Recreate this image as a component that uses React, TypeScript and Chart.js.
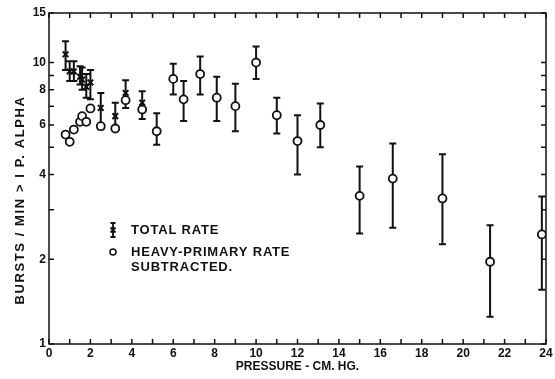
import React, { useEffect, useRef } from "react";
import { Chart, registerables } from "chart.js";

Chart.register(...registerables);

const pressures = [0.8, 1.0, 1.2, 1.5, 1.6, 1.8, 2.0, 2.5, 3.2, 3.7, 4.5, 5.2, 6.0, 6.5, 7.3, 8.1, 9.0, 10.0, 11.0, 12.0, 13.1, 15.0, 16.6, 19.0, 21.3, 23.8];
const totalRate = [10.7, 9.3, 9.3, 8.9, 8.7, 8.2, 8.5, 6.9, 6.45, 7.8, 7.2, 5.7, 8.75, 7.4, 9.1, 7.5, 7.0, 10.0, 6.5, 5.26, 6.0, 3.36, 3.87, 3.29, 1.96, 2.45];
const totalHigh = [11.9, 10.1, 10.1, 9.7, 9.6, 9.1, 9.4, 7.8, 7.2, 8.65, 7.9, 6.6, 9.9, 8.6, 10.5, 8.9, 8.4, 11.4, 7.5, 6.5, 7.15, 4.27, 5.16, 4.72, 2.64, 3.34];
const totalLow = [9.4, 8.6, 8.6, 8.35, 8.0, 7.5, 7.4, 5.8, 5.9, 6.9, 6.3, 5.1, 7.7, 6.2, 7.7, 6.2, 5.7, 8.75, 5.6, 4.0, 5.0, 2.47, 2.59, 2.26, 1.25, 1.56];
const subtractedRate = [5.55, 5.23, 5.78, 6.16, 6.45, 6.16, 6.87, 5.94, 5.83, 7.35, 6.81, 5.7, 8.75, 7.4, 9.1, 7.5, 7.0, 10.0, 6.5, 5.26, 6.0, 3.36, 3.87, 3.29, 1.96, 2.45];

const yTicks = [1, 2, 3, 4, 5, 6, 7, 8, 9, 10, 15];
const yTickLabels = [1, 2, 4, 6, 8, 10, 15];
const xMinorTicks = [0, 1, 2, 3, 4, 5, 6, 7, 8, 9, 10, 11, 12, 13, 14, 15, 16, 17, 18, 19, 20, 21, 22, 23, 24];

const xTitle = "PRESSURE - CM. HG.";
const yTitle = "BURSTS / MIN > I P. ALPHA";
const legendTotal = "TOTAL RATE";
const legendSub1 = "HEAVY-PRIMARY RATE";
const legendSub2 = "SUBTRACTED.";

const FONT = "'Liberation Sans', Arial, sans-serif";
const INK = "#111";

const framePlugin = {
  id: "frame",
  afterDatasetsDraw(chart: any) {
    const { ctx, chartArea } = chart;
    const xs = chart.scales.x;
    const ys = chart.scales.y;
    const { left, right, top, bottom } = chartArea;
    ctx.save();
    ctx.strokeStyle = INK;
    ctx.lineWidth = 1.5;
    ctx.strokeRect(left, top, right - left, bottom - top);
    const tl = 5;
    ctx.beginPath();
    xMinorTicks.forEach((v) => {
      const px = xs.getPixelForValue(v);
      ctx.moveTo(px, bottom);
      ctx.lineTo(px, bottom - tl);
      ctx.moveTo(px, top);
      ctx.lineTo(px, top + tl);
    });
    yTicks.forEach((v) => {
      const py = ys.getPixelForValue(v);
      ctx.moveTo(left, py);
      ctx.lineTo(left + tl, py);
      ctx.moveTo(right, py);
      ctx.lineTo(right - tl, py);
    });
    ctx.stroke();
    ctx.restore();
  },
};

const errorBarPlugin = {
  id: "errorBars",
  beforeDatasetsDraw(chart: any) {
    const { ctx } = chart;
    const xs = chart.scales.x;
    const ys = chart.scales.y;
    ctx.save();
    ctx.strokeStyle = INK;
    ctx.lineWidth = 2;
    ctx.beginPath();
    pressures.forEach((p, i) => {
      const px = xs.getPixelForValue(p);
      const yl = ys.getPixelForValue(totalLow[i]);
      const yh = ys.getPixelForValue(totalHigh[i]);
      ctx.moveTo(px, yl);
      ctx.lineTo(px, yh);
      ctx.moveTo(px - 3.5, yl);
      ctx.lineTo(px + 3.5, yl);
      ctx.moveTo(px - 3.5, yh);
      ctx.lineTo(px + 3.5, yh);
    });
    ctx.stroke();
    ctx.restore();
  },
};

const textPlugin = {
  id: "inlineText",
  afterDraw(chart: any) {
    const { ctx } = chart;
    ctx.save();
    ctx.strokeStyle = INK;
    ctx.fillStyle = INK;
    ctx.lineWidth = 1.8;
    const sx = 113;
    const y1 = 230;
    ctx.beginPath();
    ctx.moveTo(sx, y1 - 7);
    ctx.lineTo(sx, y1 + 7);
    ctx.moveTo(sx - 2.5, y1 - 7);
    ctx.lineTo(sx + 2.5, y1 - 7);
    ctx.moveTo(sx - 2.5, y1 + 7);
    ctx.lineTo(sx + 2.5, y1 + 7);
    ctx.moveTo(sx - 2.5, y1 - 2.5);
    ctx.lineTo(sx + 2.5, y1 + 2.5);
    ctx.moveTo(sx + 2.5, y1 - 2.5);
    ctx.lineTo(sx - 2.5, y1 + 2.5);
    ctx.stroke();
    const y2 = 252;
    ctx.lineWidth = 1.5;
    ctx.beginPath();
    ctx.arc(sx, y2, 3, 0, Math.PI * 2);
    ctx.stroke();
    ctx.font = `bold 13px ${FONT}`;
    (ctx as any).letterSpacing = "0.8px";
    ctx.textBaseline = "middle";
    ctx.textAlign = "left";
    ctx.fillText(legendTotal, 131, y1);
    ctx.fillText(legendSub1, 131, y2);
    ctx.fillText(legendSub2, 131, 267);

    // rotated y-axis title
    ctx.translate(20, 200);
    ctx.rotate(-Math.PI / 2);
    ctx.textAlign = "center";
    ctx.font = `bold 13px ${FONT}`;
    (ctx as any).letterSpacing = "1.6px";
    ctx.fillText(yTitle, 0, 0);
    ctx.restore();
  },
};

export default function App() {
  const ref = useRef<HTMLCanvasElement | null>(null);
  useEffect(() => {
    document.body.style.margin = "0";
    const canvas = ref.current;
    if (!canvas) return;
    const chart = new Chart(canvas, {
      type: "scatter",
      data: {
        datasets: [
          {
            label: legendSub1,
            data: pressures.map((p, i) => ({ x: p, y: subtractedRate[i] })),
            pointStyle: "circle",
            pointRadius: 4,
            pointBorderWidth: 1.8,
            pointBorderColor: INK,
            pointBackgroundColor: "#fff",
            showLine: false,
            order: 0,
          },
          {
            label: legendTotal,
            data: pressures.map((p, i) => ({ x: p, y: totalRate[i] })),
            pointStyle: "crossRot",
            pointRadius: 4,
            pointBorderWidth: 2,
            pointBorderColor: INK,
            pointBackgroundColor: INK,
            showLine: false,
            order: 1,
          },
        ],
      },
      options: {
        animation: false,
        responsive: true,
        maintainAspectRatio: false,
        layout: { padding: { top: 13, right: 9, left: 0, bottom: 5 } },
        plugins: {
          legend: { display: false },
          tooltip: { enabled: false },
        },
        scales: {
          x: {
            type: "linear",
            min: 0,
            max: 24,
            ticks: {
              stepSize: 2,
              color: INK,
              font: { family: FONT, size: 12, weight: "bold" },
              padding: 2,
              maxRotation: 0,
            },
            grid: { display: false, drawTicks: false },
            border: { display: false },
            title: {
              display: true,
              text: xTitle,
              color: INK,
              font: { family: FONT, size: 12, weight: "bold" },
              padding: { top: 2, bottom: 0 },
            },
            afterFit: (s: any) => {
              s.height = 30;
            },
          },
          y: {
            type: "logarithmic",
            min: 1,
            max: 15,
            afterBuildTicks: (s: any) => {
              s.ticks = yTicks.map((v) => ({ value: v }));
            },
            ticks: {
              autoSkip: false,
              color: INK,
              font: { family: FONT, size: 12, weight: "bold" },
              padding: 3,
              callback: (v: any) => (yTickLabels.includes(Number(v)) ? String(v) : ""),
            },
            grid: { display: false, drawTicks: false },
            border: { display: false },
            title: { display: false },
            afterFit: (s: any) => {
              s.width = 49;
            },
          },
        },
      },
      plugins: [errorBarPlugin, framePlugin, textPlugin],
    });
    return () => chart.destroy();
  }, []);
  return (
    <div style={{ width: 555, height: 379, position: "relative", background: "#fff" }}>
      <canvas ref={ref} />
    </div>
  );
}
